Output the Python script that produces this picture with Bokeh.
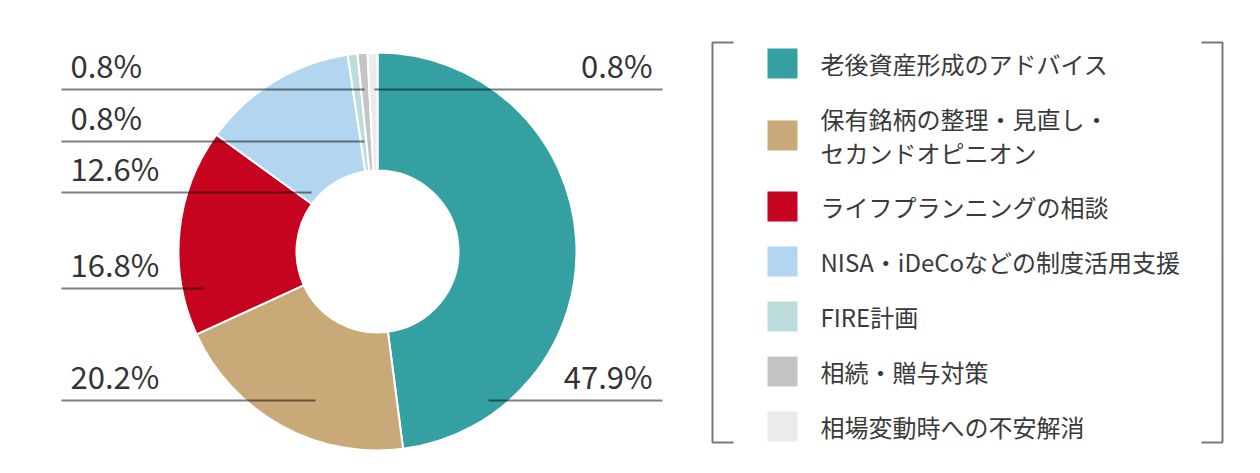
import math
from bokeh.plotting import figure
from bokeh.models import Range1d
from bokeh.embed import file_html
from bokeh.resources import INLINE
from bokeh.core.properties import value

# ---- data ----
categories = [
    "老後資産形成のアドバイス",
    "保有銘柄の整理・見直し・\nセカンドオピニオン",
    "ライフプランニングの相談",
    "NISA・iDeCoなどの制度活用支援",
    "FIRE計画",
    "相続・贈与対策",
    "相場変動時への不安解消",
]
shares = [47.9, 20.2, 16.8, 12.6, 0.8, 0.8, 0.8]
share_labels = ["47.9%", "20.2%", "16.8%", "12.6%", "0.8%", "0.8%", "0.8%"]
colors = ["#35a0a1", "#c8a977", "#c6041f", "#b3d6f0", "#bddddc", "#c4c4c4", "#ebebeb"]

# ---- layout (screenshot pixel coordinates) ----
W, H = 1244, 457
def fx(px):
    return px
def fy(py):
    return H - py

CX, CY = 377, 251
R_OUT, R_IN = 199, 81

# label placement: (slice index, side, line y, line inner x)
label_layout = [
    (0, "right", 400, 488),
    (1, "left", 400, 315),
    (2, "left", 288, 203),
    (3, "left", 192, 311),
    (4, "left", 141, 364),
    (5, "left", 89, 364),
    (6, "right", 89, 374),
]
LEFT_X0, RIGHT_X1 = 61, 662
LEFT_TEXT_X, RIGHT_TEXT_X = 70, 652
TEXT_ABOVE = 25

legend_y = [63, 135, 206, 261, 316, 371, 426]
LEGEND_LINE_GAP = 34
SW_X, TXT_X = 782, 820

p = figure(width=W, height=H, x_range=Range1d(0, W), y_range=Range1d(0, H),
           output_backend="svg", toolbar_location=None, min_border=0,
           background_fill_color="white", border_fill_color="white")
p.axis.visible = False
p.grid.visible = False
p.outline_line_color = None

# donut
total = sum(shares)
cum = 0.0
starts, ends = [], []
for s in shares:
    starts.append(math.pi / 2 - 2 * math.pi * cum / total)
    cum += s
    ends.append(math.pi / 2 - 2 * math.pi * cum / total)
p.annular_wedge(x=[fx(CX)] * len(shares), y=[fy(CY)] * len(shares),
                inner_radius=R_IN, outer_radius=R_OUT,
                start_angle=starts, end_angle=ends, direction="clock",
                fill_color=colors, line_color="white", line_width=2)

# leader lines and labels
for idx, side, ly, lx in label_layout:
    if side == "left":
        xs = [fx(LEFT_X0), fx(lx)]
        tx, align = fx(LEFT_TEXT_X), "left"
    else:
        xs = [fx(lx), fx(RIGHT_X1)]
        tx, align = fx(RIGHT_TEXT_X), "right"
    p.line(x=xs, y=[fy(ly), fy(ly)], line_color="black", line_alpha=0.5, line_width=2)
    p.text(x=[tx], y=[fy(ly - TEXT_ABOVE)], text=[share_labels[idx]],
           text_font=value("Noto Sans CJK JP"), text_font_size="31px",
           text_color="#333333", text_align=align, text_baseline="alphabetic")

# legend frame (brackets)
BL, BR, BT, BB, TICK = 712, 1222, 42, 442, 21
for xs, ys in [
    ([BL + TICK, BL, BL, BL + TICK], [BT, BT, BB, BB]),
    ([BR - TICK, BR, BR, BR - TICK], [BT, BT, BB, BB]),
]:
    p.line(x=[fx(v) for v in xs], y=[fy(v) for v in ys], line_color="#7a7a7a", line_width=2)

# legend entries
p.rect(x=[fx(SW_X)] * len(categories), y=[fy(v) for v in legend_y],
       width=30, height=30, width_units="screen", height_units="screen",
       fill_color=colors, line_color=None)
tx_list, ty_list, tt_list = [], [], []
for label, cy in zip(categories, legend_y):
    lines = label.split("\n")
    n = len(lines)
    for i, ln in enumerate(lines):
        tx_list.append(fx(TXT_X))
        ty_list.append(fy(cy + (i - (n - 1) / 2) * LEGEND_LINE_GAP))
        tt_list.append(ln)
p.text(x=tx_list, y=ty_list, text=tt_list,
       text_font=value("Noto Sans CJK JP"), text_font_size="24px",
       text_color="#3a3a3a", text_align="left", text_baseline="middle")

open("out.html", "w").write(file_html(p, INLINE))
